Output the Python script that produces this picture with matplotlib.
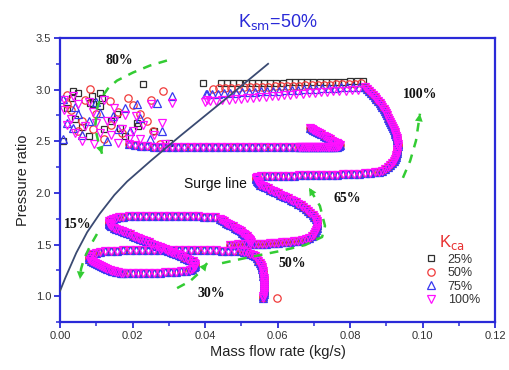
import matplotlib
matplotlib.use('Agg')
import matplotlib.pyplot as plt

# ---------------- data ----------------
series_labels = ['25%', '50%', '75%', '100%']

# shared trajectory pieces (all four K_ca series lie almost on top of each other)
rise_x = [0.0560,0.0561,0.0562,0.0562,0.0563,0.0563,0.0563,0.0563,0.0563,0.0562,0.0562,0.0561,0.0560,0.0559,0.0558,0.0556,0.0554,0.0551,0.0547,0.0543,0.0538,0.0532,0.0525,0.0517,0.0508,0.0498]
rise_y = [0.98,1.00,1.02,1.04,1.06,1.08,1.10,1.12,1.14,1.16,1.18,1.20,1.22,1.24,1.26,1.28,1.30,1.32,1.345,1.365,1.385,1.400,1.413,1.423,1.430,1.436]

loop30_top_x = [0.0481,0.0464,0.0447,0.0430,0.0413,0.0396,0.0379,0.0362,0.0345,0.0328,0.0311,0.0294,0.0277,0.0260,0.0243,0.0226,0.0209,0.0192,0.0175,0.0158,0.0141,0.0124,0.0110,0.0098]
loop30_top_y = [1.440,1.441,1.442,1.443,1.444,1.445,1.446,1.447,1.447,1.448,1.448,1.448,1.448,1.447,1.447,1.446,1.445,1.444,1.443,1.441,1.438,1.434,1.428,1.420]

loop30_tip_x = [0.0088,0.0082,0.0079,0.0080,0.0086,0.0091,0.0096,0.0101,0.0107,0.0113,0.0119,0.0125,0.0131,0.0137,0.0143,0.0149,0.0155,0.0161,0.0167,0.0173]
loop30_tip_y = [1.405,1.390,1.375,1.360,1.345,1.332,1.320,1.309,1.298,1.288,1.279,1.270,1.262,1.255,1.248,1.242,1.237,1.232,1.228,1.225]

loop30_bot_x = [0.0185,0.0200,0.0215,0.0230,0.0245,0.0260,0.0275,0.0290,0.0305,0.0320,0.0335,0.0348,0.0358,0.0365,0.0370,0.0372,0.0372,0.0370,0.0366]
loop30_bot_y = [1.224,1.224,1.224,1.225,1.226,1.227,1.228,1.230,1.232,1.235,1.240,1.247,1.256,1.265,1.280,1.295,1.310,1.325,1.338]

diag_x = [0.0357,0.0350,0.0342,0.0335,0.0327,0.0320,0.0312,0.0305,0.0297,0.0290,0.0282,0.0275,0.0267,0.0260,0.0252,0.0245,0.0237,0.0230,0.0222,0.0215,0.0207,0.0200,0.0192,0.0185,0.0177,0.0170,0.0162,0.0155,0.0148,0.0142]
diag_y = [1.352,1.363,1.374,1.386,1.397,1.408,1.419,1.430,1.441,1.453,1.464,1.475,1.486,1.497,1.508,1.520,1.531,1.542,1.553,1.564,1.575,1.587,1.598,1.609,1.620,1.631,1.642,1.654,1.665,1.675]

loop15_x = [0.0137,0.0134,0.0134,0.0136,0.0140,0.0146,0.0154,0.0164,0.0175,
            0.0190,0.0206,0.0222,0.0238,0.0254,0.0270,0.0286,0.0302,0.0318,0.0334,0.0350,0.0366,0.0382,0.0398,0.0413,0.0427,
            0.0440,0.0446,0.0452,0.0458,0.0464,0.0470,0.0476,0.0482,0.0488,0.0493,0.0498,0.0503,0.0507,0.0511,0.0515,0.0518,0.0521,0.0523,0.0525,0.0526]
loop15_y = [1.688,1.700,1.712,1.724,1.736,1.746,1.756,1.764,1.770,
            1.774,1.776,1.777,1.778,1.779,1.780,1.780,1.780,1.780,1.779,1.778,1.776,1.774,1.771,1.767,1.762,
            1.748,1.736,1.724,1.712,1.700,1.688,1.676,1.664,1.652,1.640,1.628,1.616,1.604,1.592,1.580,1.568,1.556,1.545,1.533,1.521]

bandA_x = [0.0470,0.0481,0.0492,0.0503,0.0514,0.0525,0.0536,0.0547,0.0558,0.0569,0.0580,0.0591,0.0602,0.0613,0.0624,0.0635,0.0646,0.0657,0.0668,0.0678]
bandA_y = [1.500,1.500,1.501,1.501,1.502,1.503,1.504,1.505,1.507,1.509,1.511,1.514,1.517,1.520,1.524,1.528,1.533,1.539,1.545,1.552]

curve50_x = [0.0688,0.0695,0.0700,0.0704,0.0707,0.0709,0.0710,0.0710,0.0709,0.0706,0.0702,0.0697,0.0691,0.0685,0.0678,0.0671,0.0664,0.0657,0.0650,0.0643,
             0.0636,0.0629,0.0622,0.0615,0.0608,0.0601,0.0594,0.0587,0.0580,0.0573,0.0566,0.0559,0.0553,0.0548,0.0545,0.0543,0.0542,0.0542,0.0543]
curve50_y = [1.565,1.585,1.605,1.625,1.645,1.665,1.685,1.705,1.725,1.745,1.765,1.785,1.805,1.825,1.845,1.863,1.880,1.895,1.909,1.922,
             1.935,1.948,1.960,1.972,1.984,1.996,2.008,2.020,2.032,2.044,2.056,2.068,2.080,2.092,2.105,2.118,2.131,2.144,2.157]

line65_x = [0.0555,0.0570,0.0585,0.0600,0.0615,0.0630,0.0645,0.0660,0.0675,0.0690,0.0705,0.0720,0.0735,0.0750,0.0765,0.0780,0.0795,0.0810,0.0825,0.0840,0.0855,0.0868,0.0880]
line65_y = [2.163,2.163,2.164,2.165,2.166,2.167,2.168,2.169,2.170,2.171,2.172,2.173,2.174,2.176,2.177,2.179,2.181,2.183,2.186,2.189,2.193,2.198,2.204]

curve100_x = [0.0887,0.0896,0.0904,0.0910,0.0916,0.0920,0.0923,0.0926,0.0928,0.0930,0.0931,0.0931,0.0932,0.0932,0.0931,0.0930,0.0929,0.0927,0.0925,0.0923,
              0.0921,0.0919,0.0917,0.0914,0.0911,0.0908,0.0905,0.0902,0.0899,0.0896,0.0893,0.0889,0.0886,0.0882,0.0878,0.0873,0.0869,0.0864,0.0859,0.0853,0.0847,0.0840]
curve100_y = [2.21,2.23,2.25,2.27,2.29,2.31,2.33,2.35,2.37,2.39,2.41,2.43,2.45,2.47,2.49,2.51,2.53,2.55,2.57,2.59,
              2.61,2.63,2.65,2.67,2.69,2.71,2.73,2.75,2.77,2.79,2.81,2.83,2.85,2.87,2.89,2.91,2.93,2.95,2.97,2.99,3.01,3.03]

line80_x = [0.0190,0.0207,0.0224,0.0241,0.0258,0.0275,0.0292,0.0309,0.0326,0.0343,0.0360,0.0377,0.0394,0.0411,0.0428,0.0445,0.0462,0.0479,0.0496,0.0513,0.0530,0.0547,0.0564,0.0581,0.0598,0.0615,0.0632,0.0649]
line80_y = [2.470,2.462,2.456,2.452,2.449,2.447,2.446,2.445,2.445,2.444,2.444,2.444,2.444,2.443,2.443,2.443,2.443,2.442,2.442,2.442,2.442,2.441,2.441,2.441,2.441,2.441,2.441,2.440]

tip80_x = [0.0658,0.0663,0.0668,0.0673,0.0678,0.0683,0.0688,0.0693,0.0698,0.0703,0.0708,0.0713,0.0718,0.0723,0.0728,0.0733,0.0738,0.0743,0.0748,0.0753,0.0758,0.0763,0.0767,0.0770,
           0.0772,0.0768,0.0763,0.0757,0.0751,0.0745,0.0739,0.0733,0.0727,0.0721,0.0715,0.0709,0.0703,0.0698,0.0694,0.0691]
tip80_y = [2.440,2.440,2.440,2.440,2.440,2.440,2.440,2.440,2.440,2.440,2.440,2.440,2.441,2.441,2.441,2.442,2.442,2.443,2.444,2.445,2.447,2.449,2.452,2.456,
           2.461,2.470,2.482,2.494,2.506,2.518,2.530,2.542,2.554,2.566,2.578,2.590,2.602,2.612,2.621,2.630]

# per-series top branch (Pr ~ 3.0)
top25_x = [0.0835,0.0818,0.0801,0.0784,0.0767,0.0750,0.0733,0.0716,0.0699,0.0682,0.0665,0.0648,0.0631,0.0614,0.0597,0.0580,0.0563,0.0546,0.0529,0.0512,0.0495,0.0478,0.0461,0.0444,0.0394]
top25_y = [3.085,3.082,3.080,3.078,3.077,3.076,3.075,3.074,3.073,3.072,3.071,3.070,3.070,3.069,3.069,3.068,3.068,3.067,3.067,3.066,3.066,3.065,3.065,3.064,3.066]
top50_x = [0.0830,0.0813,0.0796,0.0779,0.0762,0.0745,0.0728,0.0711,0.0694,0.0677,0.0660,0.0643,0.0626,0.0609,0.0592,0.0575,0.0558,0.0541,0.0524,0.0507,0.0490,0.0473,0.0456,0.0439,0.0422]
top50_y = [3.060,3.057,3.055,3.053,3.051,3.049,3.047,3.045,3.043,3.041,3.039,3.037,3.035,3.033,3.031,3.029,3.027,3.025,3.023,3.021,3.019,3.017,3.015,3.013,3.010]
top75_x = [0.0826,0.0809,0.0792,0.0775,0.0758,0.0741,0.0724,0.0707,0.0690,0.0673,0.0656,0.0639,0.0622,0.0605,0.0588,0.0571,0.0554,0.0537,0.0520,0.0503,0.0486,0.0469,0.0452,0.0435,0.0418,0.0403]
top75_y = [3.030,3.027,3.024,3.021,3.018,3.015,3.012,3.009,3.006,3.003,3.000,2.997,2.994,2.991,2.988,2.985,2.982,2.979,2.976,2.973,2.970,2.967,2.964,2.961,2.958,2.955]
top100_x = [0.0822,0.0805,0.0788,0.0771,0.0754,0.0737,0.0720,0.0703,0.0686,0.0669,0.0652,0.0635,0.0618,0.0601,0.0584,0.0567,0.0550,0.0533,0.0516,0.0499,0.0482,0.0465,0.0448,0.0431,0.0414,0.0400]
top100_y = [3.000,2.995,2.990,2.986,2.982,2.978,2.974,2.970,2.966,2.962,2.957,2.952,2.947,2.942,2.937,2.932,2.927,2.922,2.917,2.912,2.907,2.902,2.897,2.892,2.887,2.883]

# per-series scattered points in the surge region (80%)
surge25_x = [0.0036,0.0050,0.0033,0.0088,0.0110,0.0116,0.0091,0.0229,0.0212,0.0166,0.0008,0.0215,0.0157,0.0083,0.0110,0.0040,0.0120,0.0180,0.0260,0.0080,0.0300,0.0020,0.0140,0.0060]
surge25_y = [2.990,2.971,2.922,2.942,2.971,2.922,2.864,3.058,2.680,2.631,2.505,2.650,2.767,2.874,2.845,2.720,2.620,2.550,2.600,2.550,2.480,2.820,2.700,2.640]
surge50_x = [0.0083,0.0188,0.0284,0.0257,0.0019,0.0138,0.0221,0.0276,0.0030,0.0060,0.0100,0.0140,0.0170,0.0050,0.0200,0.0240,0.0120,0.0020,0.0090,0.0160,0.0070,0.0250,0.0599]
surge50_y = [3.010,2.922,2.990,2.602,2.864,2.893,2.767,2.476,2.800,2.700,2.760,2.660,2.580,2.600,2.850,2.700,2.520,2.950,2.620,2.780,2.900,2.900,0.981]
surge75_x = [0.0008,0.0212,0.0268,0.0309,0.0036,0.0008,0.0193,0.0248,0.0110,0.0146,0.0040,0.0080,0.0160,0.0060,0.0130,0.0220,0.0405,0.0020,0.0280,0.0100,0.0180,0.0050]
surge75_y = [2.913,2.864,2.874,2.942,2.631,2.524,2.602,2.524,2.777,2.748,2.830,2.700,2.620,2.560,2.500,2.730,2.955,2.680,2.600,2.880,2.820,2.760]
surge100_x = [0.0010,0.0030,0.0050,0.0070,0.0090,0.0110,0.0130,0.0150,0.0170,0.0190,0.0210,0.0230,0.0260,0.0290,0.0040,0.0080,0.0120,0.0160,0.0200,0.0020,
              0.0060,0.0100,0.0140,0.0180,0.0250,0.0309,0.0405,0.0280,0.0010,0.0095,0.0035,0.0150,0.0220]
surge100_y = [2.800,2.720,2.860,2.650,2.780,2.580,2.700,2.820,2.620,2.520,2.740,2.660,2.560,2.470,2.580,2.880,2.900,2.480,2.600,2.660,
              2.500,2.680,2.560,2.750,2.860,2.875,2.900,2.680,2.900,2.470,2.940,2.700,2.520]

# surge line
surge_line_x = [0.0, 0.0015, 0.0045, 0.0075, 0.0110, 0.0150, 0.0185, 0.0250, 0.0331, 0.0450, 0.0574]
surge_line_y = [1.05, 1.18, 1.42, 1.62, 1.80, 1.98, 2.11, 2.31, 2.55, 2.89, 3.25]

# annotation texts and arrows
pct_texts = ['80%', '100%', '65%', '50%', '30%', '15%']
pct_pos = [(0.0163, 3.28), (0.0993, 2.95), (0.0792, 1.95), (0.0640, 1.32), (0.0417, 1.03), (0.0050, 1.69)]
arrow_paths = [
    [(0.0295, 3.282), (0.0248, 3.233), (0.0201, 3.165), (0.0157, 3.087), (0.0132, 3.010), (0.0110, 2.90), (0.0102, 2.816), (0.0097, 2.631), (0.0105, 2.505), (0.0116, 2.379)],
    [(0.0102, 1.602), (0.0083, 1.485), (0.0066, 1.359), (0.0058, 1.262), (0.0055, 1.165)],
    [(0.0323, 1.078), (0.0359, 1.146), (0.0386, 1.233), (0.0406, 1.320)],
    [(0.0447, 1.320), (0.0524, 1.379), (0.0607, 1.437), (0.0676, 1.495), (0.0723, 1.573), (0.0731, 1.680), (0.0717, 1.874), (0.0687, 2.049)],
    [(0.0946, 2.146), (0.0966, 2.311), (0.0982, 2.505), (0.0993, 2.767)],
]

# ---------------- drawing ----------------
plt.rcParams['font.family'] = ['Liberation Sans', 'DejaVu Sans']
fig = plt.figure(figsize=(5.1, 3.7), dpi=100)
ax = fig.add_axes([60/510, 1-322/370, 435/510, 284/370])

shared_x = (rise_x + loop30_top_x + loop30_tip_x + loop30_bot_x + diag_x + loop15_x +
            bandA_x + curve50_x + line65_x + curve100_x + line80_x + tip80_x)
shared_y = (rise_y + loop30_top_y + loop30_tip_y + loop30_bot_y + diag_y + loop15_y +
            bandA_y + curve50_y + line65_y + curve100_y + line80_y + tip80_y)

tops = [(top25_x, top25_y), (top50_x, top50_y), (top75_x, top75_y), (top100_x, top100_y)]
surges = [(surge25_x, surge25_y), (surge50_x, surge50_y), (surge75_x, surge75_y), (surge100_x, surge100_y)]
markers = ['s', 'o', '^', 'v']
colors = ['#303030', '#f03a3a', '#3838f0', '#ff10ff']
sizes = [4.9, 5.3, 5.6, 5.6]

handles = []
for lab, (tx, ty), (sx, sy), m, c, s in zip(series_labels, tops, surges, markers, colors, sizes):
    xs = shared_x + tx + sx
    ys = shared_y + ty + sy
    h, = ax.plot(xs, ys, linestyle='none', marker=m, ms=s, mfc='none', mec=c, mew=0.9,
                 label=lab, zorder=2)
    handles.append(h)

ax.plot(surge_line_x, surge_line_y, color='#3a4a72', lw=1.3, zorder=3)

green = '#33cc33'
for path in arrow_paths:
    px = [p[0] for p in path]
    py = [p[1] for p in path]
    ax.plot(px, py, color=green, lw=1.8, ls=(0, (3.5, 3)), zorder=4)
    ax.annotate('', xy=path[-1], xytext=path[-2],
                arrowprops=dict(arrowstyle='-|>,head_length=0.55,head_width=0.28',
                                color=green, lw=0, shrinkA=0, shrinkB=0), zorder=4)

for t, (x, y) in zip(pct_texts, pct_pos):
    ax.text(x, y, t, fontsize=10, fontweight='bold', family=['Liberation Serif', 'DejaVu Serif'],
            ha='center', va='center', color='#111111', zorder=5)
ax.text(0.0428, 2.09, 'Surge line', fontsize=10, ha='center', va='center', color='#111111', zorder=5)

ax.set_xlim(0, 0.12)
ax.set_ylim(0.75, 3.5)
ax.set_xticks([0.00, 0.02, 0.04, 0.06, 0.08, 0.10, 0.12])
ax.set_xticklabels(['0.00', '0.02', '0.04', '0.06', '0.08', '0.10', '0.12'])
ax.set_yticks([1.0, 1.5, 2.0, 2.5, 3.0, 3.5])
ax.set_yticklabels(['1.0', '1.5', '2.0', '2.5', '3.0', '3.5'])
ax.set_xticks([0.01, 0.03, 0.05, 0.07, 0.09, 0.11], minor=True)
ax.set_yticks([0.75, 1.25, 1.75, 2.25, 2.75, 3.25], minor=True)

blue = '#2a2ad8'
for sp in ax.spines.values():
    sp.set_color(blue)
    sp.set_linewidth(1.6)
ax.tick_params(which='major', direction='out', length=4.5, width=1.3, color=blue,
               labelcolor='#333333', labelsize=8, pad=2)
ax.tick_params(which='minor', direction='out', length=3, width=1.1, color=blue)

ax.set_xlabel('Mass flow rate (kg/s)', fontsize=10.5, color='#222222', labelpad=3)
ax.set_ylabel('Pressure ratio', fontsize=10.5, color='#222222', labelpad=4)
ax.set_title('K$_{\\mathrm{sm}}$=50%', fontsize=13, color='#2a2ad8', pad=8)

leg = ax.legend(handles=handles, title='K$_{\\mathrm{ca}}$', loc='upper left', bbox_to_anchor=(0.825, 0.33),
                frameon=False, fontsize=9, title_fontsize=12, handlelength=1.2,
                handletextpad=0.7, labelspacing=0.12, borderaxespad=0)
leg.get_title().set_color('#e83030')
for t in leg.get_texts():
    t.set_color('#333333')

fig.savefig('out.png', dpi=100)
